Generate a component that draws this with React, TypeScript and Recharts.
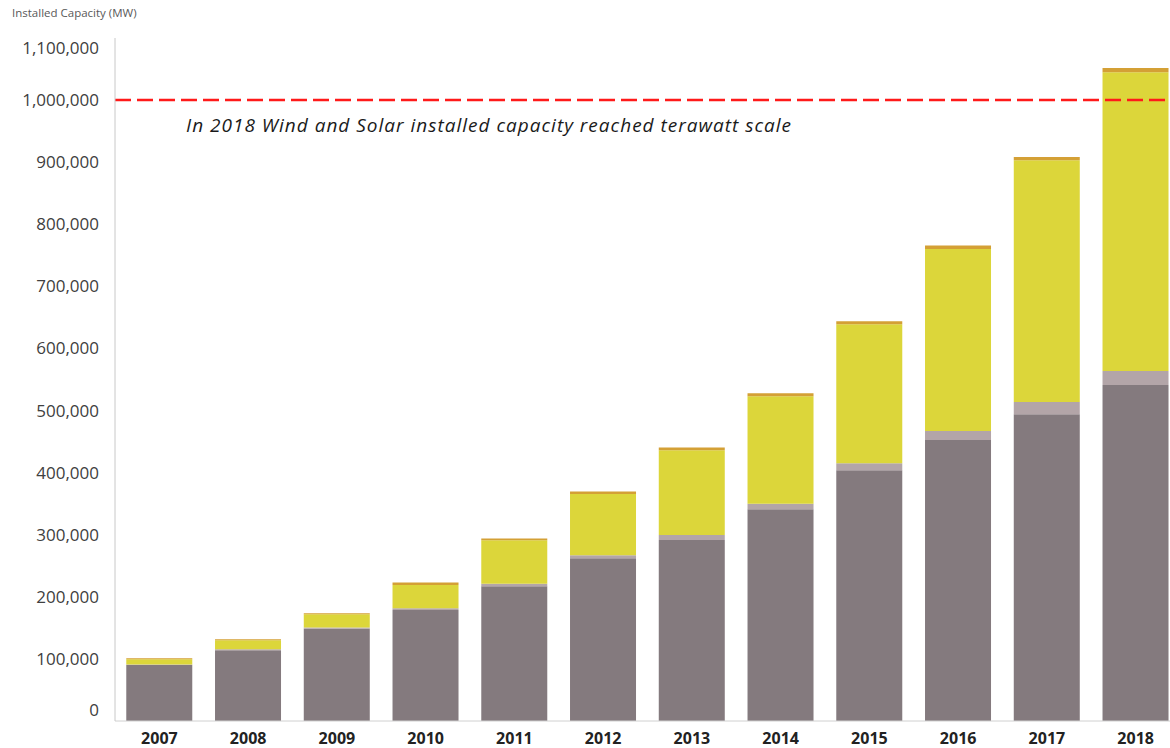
import { BarChart, Bar, XAxis, YAxis, ReferenceLine } from 'recharts'

const years = ['2007', '2008', '2009', '2010', '2011', '2012', '2013', '2014', '2015', '2016', '2017', '2018']
const windOnshore = [90000, 114000, 148500, 178700, 217000, 262000, 291500, 341000, 404000, 452500, 494000, 541000]
const windOffshore = [1000, 1500, 2000, 3000, 4000, 5000, 8000, 8700, 11000, 14500, 19700, 22600]
const solarPv = [8500, 14500, 21500, 37300, 70000, 98500, 136500, 173300, 224000, 293000, 389300, 481400]
const solarCsp = [1500, 1500, 1500, 4000, 3000, 4000, 4500, 5000, 5000, 6000, 5500, 6500]
const yTicks = [0, 100000, 200000, 300000, 400000, 500000, 600000, 700000, 800000, 900000, 1000000, 1100000]

const data = years.map((year, i) => ({
  year,
  onshore: windOnshore[i],
  offshore: windOffshore[i],
  pv: solarPv[i],
  csp: solarCsp[i],
}))

const font = '"Open Sans", sans-serif'

function YTick(props: any) {
  const { x, y, payload } = props
  // Excel pushes the first and last labels inside the plot area
  let dy = 6
  if (payload.value === 0) dy = -5
  if (payload.value === 1100000) dy = 16
  return (
    <text x={x - 8} y={y + dy} textAnchor="end" fontSize={17} fill="#404040" fontFamily={font}>
      {payload.value.toLocaleString('en-US')}
    </text>
  )
}

function XTick(props: any) {
  const { x, y, payload } = props
  return (
    <text x={x} y={y + 15} textAnchor="middle" fontSize={16} fontWeight="bold" fill="#222" fontFamily={font}>
      {payload.value}
    </text>
  )
}

export default function App() {
  return (
    <div style={{ position: 'fixed', left: 0, top: 0, width: 1170, height: 748, overflow: 'hidden', background: '#fff' }}>
      <div style={{ position: 'absolute', left: 12, top: 5, fontSize: 11.5, color: '#595959', fontFamily: font }}>
        Installed Capacity (MW)
      </div>
      <BarChart
        width={1180}
        height={748}
        data={data}
        margin={{ top: 38, right: 0, bottom: 0, left: 0 }}
        barCategoryGap="12.7%"
      >
        <XAxis
          dataKey="year"
          height={27}
          tickLine={false}
          axisLine={{ stroke: '#d0d0d0' }}
          tick={<XTick />}
          interval={0}
        />
        <YAxis
          width={115}
          domain={[0, 1100000]}
          ticks={yTicks}
          tickLine={false}
          axisLine={{ stroke: '#c8c8c8' }}
          tick={<YTick />}
          interval={0}
        />
        <Bar dataKey="onshore" stackId="a" fill="#847a7e" isAnimationActive={false} />
        <Bar dataKey="offshore" stackId="a" fill="#b3a5a8" isAnimationActive={false} />
        <Bar dataKey="pv" stackId="a" fill="#dcd63a" isAnimationActive={false} />
        <Bar dataKey="csp" stackId="a" fill="#d4a035" isAnimationActive={false} />
        <ReferenceLine y={1000000} stroke="#ff1a1a" strokeWidth={2.5} strokeDasharray="16 6" />
      </BarChart>
      <div
        style={{
          position: 'absolute',
          left: 186,
          top: 112,
          fontSize: 19,
          letterSpacing: 1,
          fontStyle: 'italic',
          color: '#1a1a1a',
          fontFamily: font,
          whiteSpace: 'nowrap',
        }}
      >
        In 2018 Wind and Solar installed capacity reached terawatt scale
      </div>
    </div>
  )
}
